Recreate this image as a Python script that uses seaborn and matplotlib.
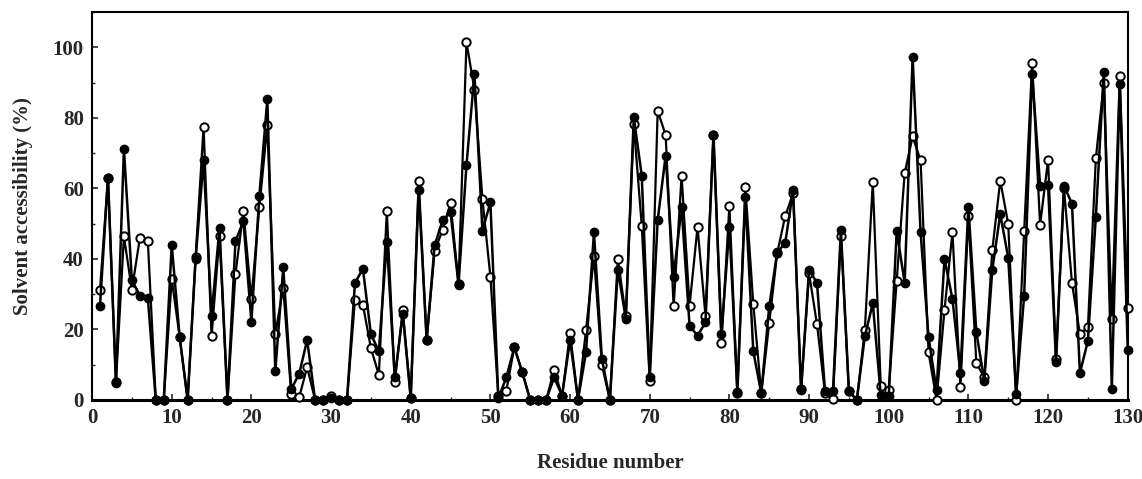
import numpy as np
import pandas as pd
import matplotlib
matplotlib.use("Agg")
import matplotlib.pyplot as plt
import seaborn as sns
from matplotlib.ticker import MultipleLocator

residues = list(range(1, 131))

filled_values = [
    26.7, 63, 4.7, 71.2, 34, 29.6, 29, 0, 0, 44,
    17.8, 0, 40, 68, 23.9, 48.8, 0, 45, 50.7, 22.2,
    57.9, 85.2, 8.1, 37.6, 3.1, 7.4, 17, 0, 0, 0.5,
    0, 0, 33.2, 37.2, 18.7, 13.8, 44.9, 6.4, 24.4, 0.5,
    59.5, 17, 43.8, 50.9, 53.2, 32.7, 66.7, 92.4, 48, 56,
    0.5, 6.4, 14.9, 7.8, 0, 0, 0, 6.4, 1.2, 17,
    0, 13.5, 47.5, 11.6, 0, 36.9, 23, 80.2, 63.6, 6.6,
    51, 69.3, 35, 54.6, 21.1, 18.2, 22, 75.2, 18.7, 49,
    2.2, 57.5, 13.8, 1.9, 26.5, 41.9, 44.4, 59.4, 2.8, 36.9,
    33.2, 2.6, 2.5, 48.2, 2.5, 0, 18, 27.4, 1.4, 1,
    48, 33.2, 97.2, 47.5, 17.8, 2.8, 40, 28.6, 7.7, 54.8,
    19.2, 5.5, 36.9, 52.7, 40.3, 1.7, 29.6, 92.5, 60.8, 61,
    10.7, 60.8, 55.6, 7.6, 16.8, 52, 93.1, 3.1, 89.6, 14.2,
]

open_values = [
    31.2, 63, 5, 46.4, 31.2, 45.9, 45.2, 0, 0, 34.3,
    17.8, 0, 40.6, 77.5, 18, 46.6, 0, 35.7, 53.5, 28.6,
    54.6, 77.9, 18.7, 31.8, 1.7, 0.8, 9.3, 0, 0, 1,
    0, 0, 28.4, 27, 14.7, 7.1, 53.5, 5, 25.5, 0.5,
    62.2, 17, 42.2, 48.2, 55.8, 33, 101.4, 88, 57, 35,
    1, 2.6, 15, 8, 0, 0, 0, 8.5, 1.2, 19,
    0, 19.7, 40.7, 9.9, 0, 40, 23.7, 78.1, 49.4, 5.5,
    82, 75.1, 26.5, 63.6, 26.7, 49, 23.9, 75, 16.1, 55.1,
    2, 60.5, 27.2, 2, 21.7, 41.6, 52.1, 58.6, 3, 35.9,
    21.4, 2, 0.3, 46.6, 2.5, 0, 19.8, 61.7, 4, 2.8,
    33.8, 64.3, 74.7, 67.9, 13.5, 0, 25.5, 47.5, 3.6, 52.1,
    10.4, 6.4, 42.5, 62.2, 49.9, 0, 47.8, 95.6, 49.6, 68.1,
    11.6, 60, 33.2, 18.7, 20.6, 68.5, 90, 23, 91.8, 26,
]

x_ticks = list(range(0, 131, 10))
y_ticks = list(range(0, 101, 20))

df = pd.DataFrame({"residue": residues, "filled": filled_values, "open": open_values})

sns.set_style("ticks")
plt.rcParams["font.family"] = ["Liberation Serif", "DejaVu Serif"]
plt.rcParams["font.weight"] = "bold"

fig = plt.figure(figsize=(11.42, 4.79), dpi=100)
ax = fig.add_axes([0.0806, 0.165, 0.9069, 0.81])

sns.lineplot(data=df, x="residue", y="open", ax=ax, color="black", linewidth=1.6,
             marker="o", markersize=6, markerfacecolor="white",
             markeredgecolor="black", markeredgewidth=1.4, zorder=3, clip_on=False)
sns.lineplot(data=df, x="residue", y="filled", ax=ax, color="black", linewidth=1.8,
             marker="o", markersize=6, markerfacecolor="black",
             markeredgecolor="black", markeredgewidth=1.0, zorder=4, clip_on=False)

ax.set_xlim(0, 130)
ax.set_ylim(0, 110)
ax.set_xticks(x_ticks)
ax.set_yticks(y_ticks)
ax.xaxis.set_minor_locator(MultipleLocator(5))
ax.yaxis.set_minor_locator(MultipleLocator(10))
ax.tick_params(axis="both", which="major", direction="in", length=4, width=1.2,
               labelsize=15, pad=6)
ax.tick_params(axis="both", which="minor", direction="in", length=2.5, width=1.0)
for lab in ax.get_xticklabels() + ax.get_yticklabels():
    lab.set_fontweight("bold")

for s in ax.spines.values():
    s.set_visible(True)
    s.set_linewidth(1.5)
    s.set_color("black")
ax.spines["bottom"].set_linewidth(2.2)

ax.set_xlabel("Residue number", fontsize=15, fontweight="bold", labelpad=18)
ax.set_ylabel("Solvent accessibility (%)", fontsize=15, fontweight="bold", labelpad=14)

fig.savefig("out.png", dpi=100)
